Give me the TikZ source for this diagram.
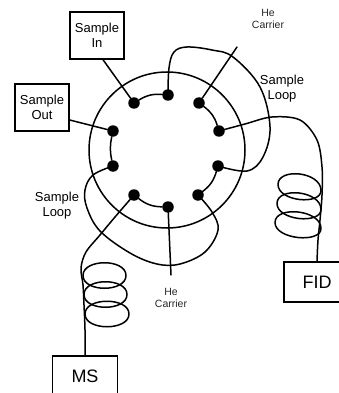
\documentclass[tikz,border=0pt]{standalone}
\usepackage{fontspec}
\setmainfont{Liberation Sans}
\tikzset{
  wire/.style={line width=1.5pt,line cap=round,line join=round},
  port/.style={circle,fill=black,inner sep=0pt,minimum size=11.5pt},
  box/.style={draw,line width=1.4pt,align=center,inner sep=0pt,font=\fontsize{13}{15}\selectfont},
  bigbox/.style={draw,line width=1.4pt,inner sep=0pt,font=\fontsize{18}{20}\selectfont},
  lab/.style={align=center,font=\fontsize{13}{15}\selectfont},
  smalllab/.style={align=center,text=black!85,font=\fontsize{10.5}{12}\selectfont}
}
\begin{document}
\begin{tikzpicture}[x=1pt,y=-1pt]
  \useasboundingbox(0,0)rectangle(338,393);
  \draw[wire](167,150)circle(78);
  \foreach \name/\px/\py in {pa/134/103,pb/168/95,pc/199/103,pd/219/131,pe/218/166,pf/198/195,pg/168/207,ph/134/195,pi/113/166,pj/113/131}
    \node[port](\name)at(\px,\py){};
  % boxes
  \node[box,minimum width=54pt,minimum height=47pt](samplein)at(97,35.5){Sample\\In};
  \node[box,minimum width=54pt,minimum height=47pt](sampleout)at(42,107.5){Sample\\Out};
  \node[bigbox,minimum width=66pt,minimum height=40pt](fid)at(317,282){FID};
  \node[bigbox,minimum width=65pt,minimum height=40pt](ms)at(85,376){MS};
  % labels
  \node[lab]at(282,88.5){Sample\\Loop};
  \node[lab]at(57,206){Sample\\Loop};
  \node[smalllab]at(268,19){He\\Carrier};
  \node[smalllab]at(171,298){He\\Carrier};
  \coordinate(hetop)at(237,47);
  \coordinate(hebot)at(171,275);
  % short links between ports
  \draw[wire](pa)to[bend left=18](pb);
  \draw[wire](pc)to[bend left=18](pd);
  \draw[wire](pe)to[bend left=18](pf);
  \draw[wire](pg)to[bend left=18](ph);
  \draw[wire](pi)to[bend right=-12](pj);
  % straight lines
  \draw[wire](samplein.south)++(6,0)--(pa);
  \draw[wire](sampleout.east|-70,120)--(pj);
  \draw[wire](pc)--(hetop);
  \draw[wire](pg)--(hebot);
  % sample loops
  \draw[wire]plot[smooth,tension=0.6]coordinates{(pb.center)(169,68)(174,52)(187,47)(212,50)(233,57)(260,87)(270,127)(263,157)(247,171)(pe.center)};
  \draw[wire]plot[smooth,tension=0.6]coordinates{(pi.center)(93,175)(85,190)(87,208)(100,231)(130,253)(157,264)(180,264)(205,252)(218,230)(212,212)(pf.center)};
  % detector lines
  \draw[wire]plot[smooth,tension=0.55]coordinates{(pd.center)(245,124)(272,117)(300,120)(317,140)(322,167)(322,195)(320,220)(318,240)(fid.north)};
  \draw[wire]plot[smooth,tension=0.55]coordinates{(ph.center)(115,217)(100,235)(86,252)(81,268)(83,285)(84,305)(85,330)(ms.north)};
  % coils
  \foreach \yc/\xl in {186.5/278,205.5/277,224.5/275}
    \draw[wire](321,\yc+4)..controls(321,\yc-15)and(\xl,\yc-19)..(\xl,\yc-2)..controls(\xl,\yc+15)and(321,\yc+19)..(321,\yc+4);
  \foreach \yc/\xl/\xr in {275.5/83/126,294.5/84/127,314/85/129}
    \draw[wire](\xl,\yc)..controls(\xl,\yc-17)and(\xr,\yc-17)..(\xr,\yc)..controls(\xr,\yc+17)and(\xl,\yc+17)..(\xl,\yc);
\end{tikzpicture}
\end{document}
